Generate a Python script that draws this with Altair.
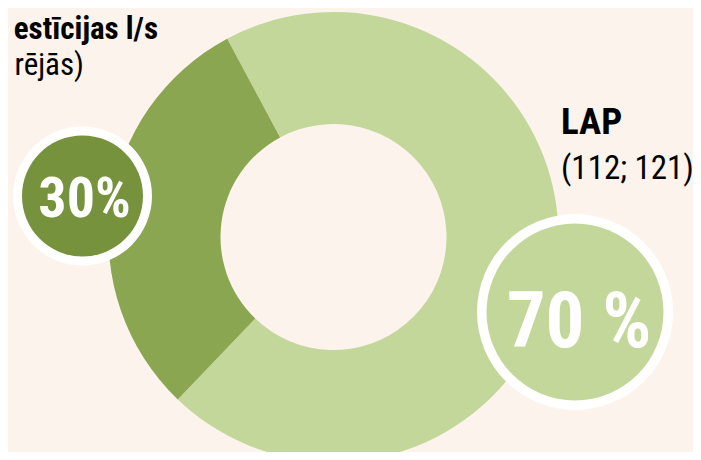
import math
import altair as alt
import pandas as pd

# ---- data ----
segments = ["LAP", "estīcijas l/s"]
shares = [70, 30]
order_idx = [0, 1]
seg_colors = ["#C4D79B", "#8AA650"]

pct_labels = ["70 %", "30%"]
lap_title = "LAP"
lap_sub = "(112; 121)"
left_title = "estīcijas l/s"
left_sub = "rējās)"

FONT = "Liberation Sans Narrow, Roboto Condensed, DejaVu Sans Condensed, Arial Narrow, sans-serif"
BG = "#FCF3EC"

df = pd.DataFrame({"segment": segments, "share": shares, "idx": order_idx})

start = math.radians(-28.2)
cx, cy = 325.5, 229.0

donut = alt.Chart(df).mark_arc(radius=225, radius2=113).encode(
    theta=alt.Theta("share:Q", stack=True,
                    scale=alt.Scale(range=[start, start + 2 * math.pi])),
    color=alt.Color("segment:N", scale=alt.Scale(domain=segments, range=seg_colors), legend=None),
    order=alt.Order("idx:Q"),
    x=alt.value(cx),
    y=alt.value(cy),
)


def badge(label, x, y, r_outer, r_inner, fill, size, tx, base_y):
    d = pd.DataFrame({"label": [label]})
    ring = alt.Chart(d).mark_circle(color="white", opacity=1).encode(
        x=alt.value(x), y=alt.value(y), size=alt.value((2 * r_outer) ** 2))
    inner = alt.Chart(d).mark_circle(color=fill, opacity=1).encode(
        x=alt.value(x), y=alt.value(y), size=alt.value((2 * r_inner) ** 2))
    txt = alt.Chart(d).mark_text(font=FONT, fontWeight="bold", fontSize=size, color="white",
                                 align="center", baseline="alphabetic").encode(
        text="label:N", x=alt.value(tx), y=alt.value(base_y))
    return ring + inner + txt


b30 = badge(pct_labels[1], 74.5, 188, 69.5, 60.5, "#76923C", 56, 76.5, 209)
b70 = badge(pct_labels[0], 567, 304, 98, 88.5, "#C4D79B", 77, 571, 339)


def label(t, x, y, weight, align, size):
    return alt.Chart(pd.DataFrame({"t": [t]})).mark_text(
        font=FONT, fontSize=size, fontWeight=weight, color="black",
        align=align, baseline="alphabetic").encode(
        text="t:N", x=alt.value(x), y=alt.value(y))


t1 = label(lap_title, 553, 126, "bold", "left", 37)
t2 = label(lap_sub, 553, 171, "normal", "left", 33)
t3 = label(left_title, 150, 31, "bold", "right", 31)
t4 = label(left_sub, 76, 67, "normal", "right", 31)

chart = alt.layer(donut, b30, b70, t1, t2, t3, t4).properties(
    width=685, height=444, background=BG, padding=0,
    autosize=alt.AutoSizeParams(type="none"),
).configure_view(stroke=None)

chart.save("out.html", embed_options={"renderer": "svg", "actions": False})
